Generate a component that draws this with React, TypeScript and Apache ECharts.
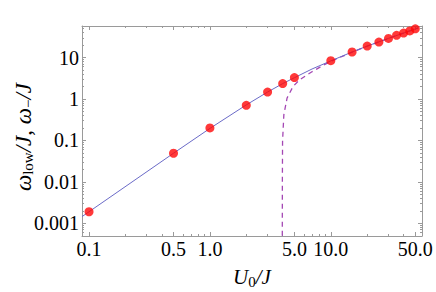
import React, { useEffect, useRef } from "react";
import * as echarts from "echarts";

// Red dots (data points)
const dotU = [0.1, 0.5, 1, 2, 3, 4, 5, 10, 15, 20, 25, 30, 35, 40, 45, 50];
const dotOmega = [0.0019, 0.049, 0.2, 0.705, 1.47, 2.35, 3.28, 8.4, 13.6, 18.9, 23.6, 29.0, 34.3, 39.0, 44.0, 49.2];

// Solid blue curve (omega_low)
const lineU = [0.0875, 0.1, 0.5, 1, 2, 3, 4, 5, 7, 10, 15, 20, 30, 40, 53];
const lineOmega = [0.00145, 0.0019, 0.049, 0.195, 0.72, 1.47, 2.35, 3.26, 5.3, 8.3, 13.6, 18.9, 29, 39, 52];

// Dashed purple curve (omega_-)
const dashU = [3.97, 3.975, 3.99, 4.09, 4.35, 4.88, 5.54, 6.93, 8.64, 10, 15, 20, 30, 40, 53];
const dashOmega = [0.0005, 0.01, 0.096, 0.42, 1.06, 2.02, 2.93, 4.47, 6.49, 8.1, 13.5, 18.8, 29, 39, 52];

// Ticks
const xMajor = [0.1, 0.5, 1, 5, 10, 50];
const xMajorLabels = ["0.1", "0.5", "1.0", "5.0", "10.0", "50.0"];
const xMinor = [0.2, 0.3, 0.4, 0.6, 0.7, 0.8, 0.9, 2, 3, 4, 6, 7, 8, 9, 20, 30, 40];
const yMajor = [0.001, 0.01, 0.1, 1, 10];
const yMajorLabels = ["0.001", "0.01", "0.1", "1", "10"];
const yMinor = [
  0.0005, 0.0006, 0.0007, 0.0008, 0.0009,
  0.002, 0.003, 0.004, 0.005, 0.006, 0.007, 0.008, 0.009,
  0.02, 0.03, 0.04, 0.05, 0.06, 0.07, 0.08, 0.09,
  0.2, 0.3, 0.4, 0.5, 0.6, 0.7, 0.8, 0.9,
  2, 3, 4, 5, 6, 7, 8, 9,
  20, 30, 40, 50,
];

const X_MIN = 0.0875;
const X_MAX = 56.8;
const Y_MIN = 0.000494;
const Y_MAX = 57.7;

const FRAME = "#9a9a9a";
const FONT = "'Liberation Serif', 'DejaVu Serif', serif";

function zip(a: number[], b: number[]) {
  return a.map((v, i) => [v, b[i]]);
}

function labelFor(values: number[], labels: string[]) {
  return (v: number) => {
    const i = values.findIndex((t) => Math.abs(Math.log10(t) - Math.log10(v)) < 1e-6);
    return i >= 0 ? labels[i] : "";
  };
}

function makeAxis(
  position: string,
  min: number,
  max: number,
  ticks: number[],
  tickLen: number,
  showLine: boolean,
  labels?: { values: number[]; texts: string[]; margin: number }
) {
  return {
    type: "log",
    logBase: 10,
    position,
    min,
    max,
    axisLine: { show: showLine, onZero: false, lineStyle: { color: FRAME, width: 1 } },
    axisTick: {
      show: true,
      inside: true,
      length: tickLen,
      customValues: ticks,
      lineStyle: { color: FRAME, width: 1 },
    },
    axisLabel: labels
      ? {
          show: true,
          customValues: labels.values,
          formatter: labelFor(labels.values, labels.texts),
          color: "#000",
          fontFamily: FONT,
          fontSize: 20,
          margin: labels.margin,
        }
      : { show: false },
    splitLine: { show: false },
    minorTick: { show: false },
    minorSplitLine: { show: false },
  };
}

export default function App() {
  const ref = useRef<HTMLDivElement>(null);

  useEffect(() => {
    if (!ref.current) return;
    const chart = echarts.init(ref.current, undefined, { renderer: "svg" });
    const option = {
      animation: false,
      backgroundColor: "#ffffff",
      grid: { left: 82, top: 26, right: 14, bottom: 56, containLabel: false },
      xAxis: [
        makeAxis("bottom", X_MIN, X_MAX, xMajor, 4, true, { values: xMajor, texts: xMajorLabels, margin: 3 }),
        makeAxis("bottom", X_MIN, X_MAX, xMinor, 2, false),
        makeAxis("top", X_MIN, X_MAX, xMajor, 4, true),
        makeAxis("top", X_MIN, X_MAX, xMinor, 2, false),
      ],
      yAxis: [
        makeAxis("left", Y_MIN, Y_MAX, yMajor, 4, true, { values: yMajor, texts: yMajorLabels, margin: 3 }),
        makeAxis("left", Y_MIN, Y_MAX, yMinor, 2, false),
        makeAxis("right", Y_MIN, Y_MAX, yMajor, 4, true),
        makeAxis("right", Y_MIN, Y_MAX, yMinor, 2, false),
      ],
      series: [
        {
          type: "line",
          xAxisIndex: 0,
          yAxisIndex: 0,
          data: zip(dashU, dashOmega),
          showSymbol: false,
          clip: true,
          lineStyle: { color: "#a447b4", width: 1.3, type: [5, 4] },
          z: 2,
        },
        {
          type: "line",
          xAxisIndex: 0,
          yAxisIndex: 0,
          data: zip(lineU, lineOmega),
          showSymbol: false,
          clip: true,
          lineStyle: { color: "#6b6bc8", width: 1 },
          z: 3,
        },
        {
          type: "scatter",
          xAxisIndex: 0,
          yAxisIndex: 0,
          data: zip(dotU, dotOmega),
          symbol: "circle",
          symbolSize: 9,
          itemStyle: { color: "#ff0808" },
          z: 4,
        },
      ],
      graphic: [
        {
          type: "text",
          x: 23,
          y: 137,
          rotation: Math.PI / 2,
          style: {
            text: "{i|ω}{s|low}{i|/J}{r|, }{i|ω}{s|−}{i|/J}",
            align: "center",
            verticalAlign: "middle",
            fill: "#000",
            rich: {
              i: { fontFamily: FONT, fontStyle: "italic", fontSize: 23, fill: "#000" },
              r: { fontFamily: FONT, fontSize: 23, fill: "#000" },
              s: { fontFamily: FONT, fontSize: 15, fill: "#000", padding: [10, 0, 0, 0] },
            },
          },
        },
        {
          type: "text",
          x: 252,
          y: 277,
          style: {
            text: "{i|U}{s|0}{i|/J}",
            align: "center",
            verticalAlign: "middle",
            fill: "#000",
            rich: {
              i: { fontFamily: FONT, fontStyle: "italic", fontSize: 21, fill: "#000" },
              s: { fontFamily: FONT, fontSize: 15, fill: "#000", padding: [10, 0, 0, 0] },
            },
          },
        },
      ],
    };
    chart.setOption(option as any);
    return () => chart.dispose();
  }, []);

  return (
    <div
      ref={ref}
      style={{ position: "fixed", left: 0, top: 0, width: 436, height: 292, background: "#fff" }}
    />
  );
}
